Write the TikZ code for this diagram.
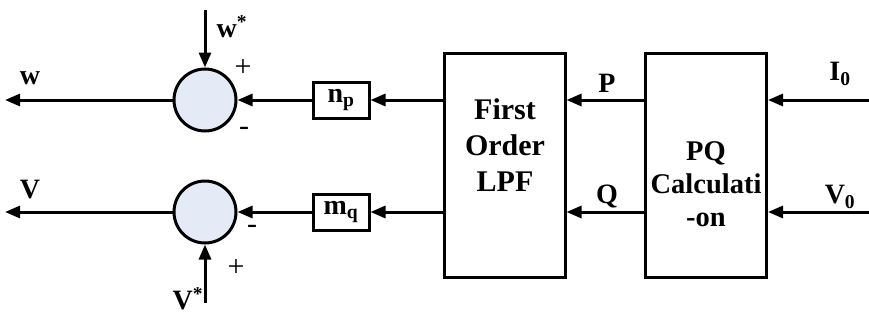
\documentclass[tikz,border=0pt]{standalone}
\usepackage{fontspec}
\setmainfont{Liberation Serif}
\usetikzlibrary{arrows.meta}
\definecolor{sumfill}{HTML}{E4EAF6}
\tikzset{
  conn/.style={line width=3pt, -{Triangle[length=15pt,width=12pt]}},
  sumnode/.style={circle, draw, line width=3pt, fill=sumfill, minimum size=62pt, inner sep=0pt},
  gainbox/.style={rectangle, draw, line width=3pt, minimum width=56pt, minimum height=36pt, inner sep=0pt, font=\fontsize{28}{30}\selectfont\bfseries},
  bigbox/.style={rectangle, draw, line width=3pt, minimum width=121pt, minimum height=224pt, inner sep=0pt},
  lbl/.style={font=\fontsize{28}{30}\selectfont\bfseries, inner sep=0pt},
  sgn/.style={font=\fontsize{30}{30}\selectfont, inner sep=0pt}
}
\begin{document}
\begin{tikzpicture}[x=1pt,y=-1pt]
\useasboundingbox (0,0) rectangle (869,324);
\node[sumnode] (s1) at (205,100) {};
\node[sumnode] (s2) at (205,212) {};
\node[gainbox] (np) at (341,100) {n\textsubscript{p}};
\node[gainbox] (mq) at (341,212) {m\textsubscript{q}};
\node[bigbox] (lpf) at (504.5,165) {};
\node[bigbox] (pq) at (706,165.5) {};
\node[lbl, align=center, font=\fontsize{30}{36}\selectfont\bfseries] (lpft) at (505,145) {First\\Order\\LPF};
\node[lbl, align=center, font=\fontsize{28.5}{33}\selectfont\bfseries] (pqt) at (706,184) {PQ\\Calculati\\-on};
\coordinate (wout) at (5,100);
\coordinate (vout) at (5,212);
\coordinate (wstar) at (205,10);
\coordinate (vstar) at (205,303);
\coordinate (iin) at (869,100);
\coordinate (vin) at (869,212);
% connectors
\draw[conn] (s1.west) -- (wout);
\draw[conn] (s2.west) -- (vout);
\draw[conn] (wstar) -- (s1.north);
\draw[conn] (vstar) -- (s2.south);
\draw[conn] (np.west) -- (s1.east);
\draw[conn] (mq.west) -- (s2.east);
\draw[conn] (lpf.west |- np) -- (np.east);
\draw[conn] (lpf.west |- mq) -- (mq.east);
\draw[conn] (pq.west |- np) -- (lpf.east |- np);
\draw[conn] (pq.west |- mq) -- (lpf.east |- mq);
\draw[conn] (iin) -- (pq.east |- iin);
\draw[conn] (vin) -- (pq.east |- vin);
% labels
\node[lbl] (wl) at (30,78) {w};
\node[lbl] (vl) at (30,190) {V};
\node[lbl] (wsl) at (232,27) {w\textsuperscript{*}};
\node[lbl] (vsl) at (188,299) {V\textsuperscript{*}};
\node[sgn] (p1) at (243,68) {+};
\node[sgn] (m1) at (244,131) {-};
\node[sgn] (m2) at (252,229) {-};
\node[sgn] (p2) at (236,268) {+};
\node[lbl] (pl) at (607,83) {P};
\node[lbl] (ql) at (607,196) {Q};
\node[lbl] (il) at (840,74) {I\textsubscript{0}};
\node[lbl] (v0l) at (840,197) {V\textsubscript{0}};
\end{tikzpicture}
\end{document}
